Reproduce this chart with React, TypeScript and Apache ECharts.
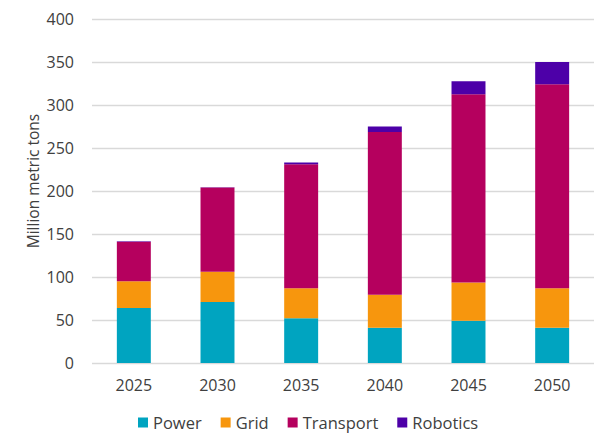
import React, { useEffect, useRef } from "react";
import * as echarts from "echarts";

const years = ["2025", "2030", "2035", "2040", "2045", "2050"];
const power = [64, 71, 52, 41, 49, 41];
const grid = [31, 35, 35, 38.5, 44.5, 46];
const transport = [46, 98, 144, 189, 219, 237];
const robotics = [0.5, 0.5, 2, 6.5, 15, 26];
const yTitle = "Million metric tons";

const FONT = "Open Sans";
const TEXT = "#404040";

export default function App() {
  const ref = useRef<HTMLDivElement>(null);
  useEffect(() => {
    if (!ref.current) return;
    const chart = echarts.init(ref.current, undefined, { renderer: "svg" });
    const mk = (name: string, data: number[], color: string) => ({
      name,
      type: "bar",
      stack: "total",
      data,
      barWidth: "40.6%",
      itemStyle: { color },
    });
    chart.setOption({
      animation: false,
      textStyle: { fontFamily: FONT },
      grid: { left: 92, right: 15, top: 19, bottom: 85 },
      legend: {
        bottom: 12,
        left: 133,
        itemWidth: 10,
        itemHeight: 10,
        itemGap: 19,
        icon: "rect",
        textStyle: { fontSize: 16.5, color: TEXT, fontFamily: FONT },
      },
      graphic: [
        {
          type: "text",
          x: 33,
          y: 181,
          rotation: Math.PI / 2,
          style: {
            text: yTitle,
            fontSize: 15.5,
            fill: TEXT,
            fontFamily: FONT,
            align: "center",
            verticalAlign: "middle",
          },
        },
      ],
      xAxis: {
        type: "category",
        data: years,
        axisLine: { show: false },
        axisTick: { show: false },
        axisLabel: { fontSize: 16, color: TEXT, margin: 14, fontFamily: FONT },
      },
      yAxis: {
        type: "value",
        min: 0,
        max: 400,
        interval: 50,
        axisLabel: { fontSize: 16, color: TEXT, margin: 18, fontFamily: FONT },
        splitLine: { lineStyle: { color: "#d9d9d9", width: 1.3 } },
      },
      series: [
        mk("Power", power, "#00A4C0"),
        mk("Grid", grid, "#F7960D"),
        mk("Transport", transport, "#B5005E"),
        mk("Robotics", robotics, "#4D00A8"),
      ],
    });
    return () => chart.dispose();
  }, []);
  return <div ref={ref} style={{ width: 609, height: 448, position: "absolute", left: 0, top: 0 }} />;
}
